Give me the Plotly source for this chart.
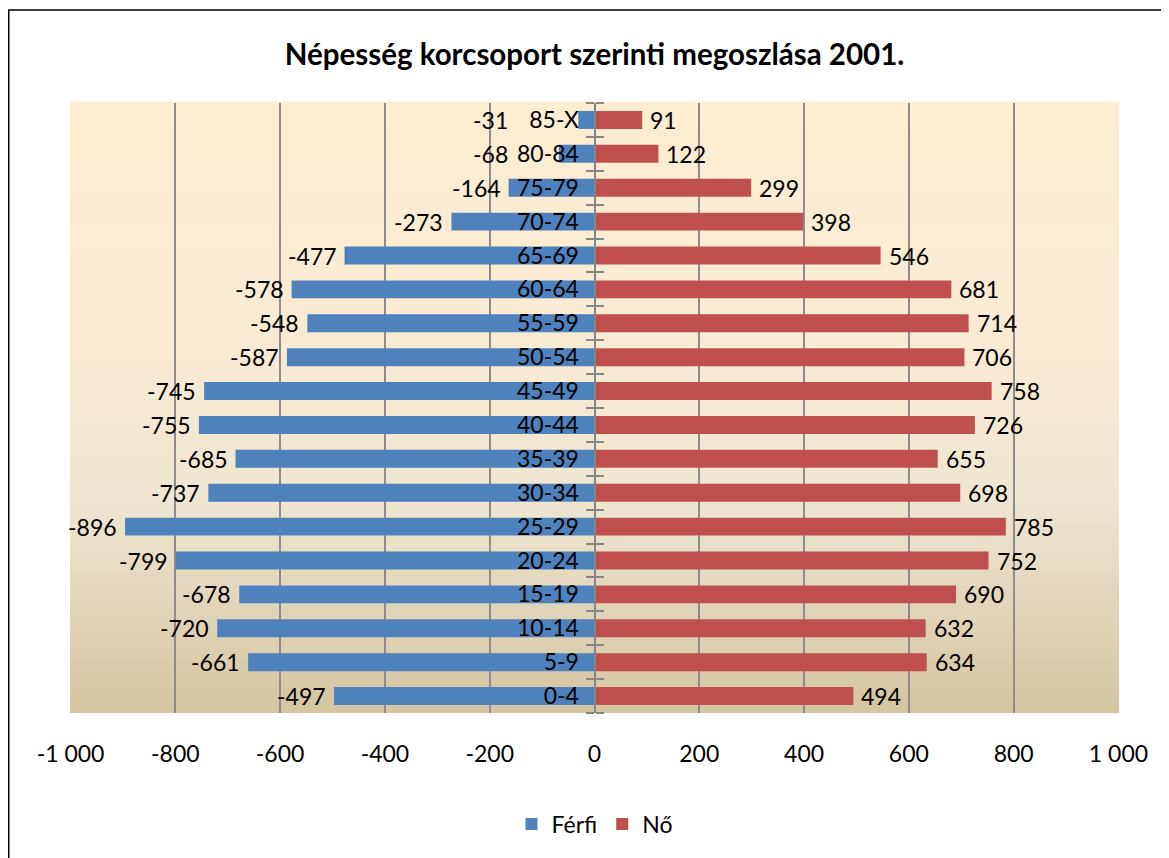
import plotly.graph_objects as go

# age groups, bottom to top
korcsoport = ["0-4", "5-9", "10-14", "15-19", "20-24", "25-29", "30-34", "35-39", "40-44",
              "45-49", "50-54", "55-59", "60-64", "65-69", "70-74", "75-79", "80-84", "85-X"]
ferfi = [-497, -661, -720, -678, -799, -896, -737, -685, -755,
         -745, -587, -548, -578, -477, -273, -164, -68, -31]
no = [494, 634, 632, 690, 752, 785, 698, 655, 726,
      758, 706, 714, 681, 546, 398, 299, 122, 91]

x_ticks = [-1000, -800, -600, -400, -200, 0, 200, 400, 600, 800, 1000]
x_labels = ["-1 000", "-800", "-600", "-400", "-200", "0", "200", "400", "600", "800", "1 000"]

FONT = "Lato, 'Open Sans', sans-serif"
KEK = "#4F81BD"
PIROS = "#C0504D"
SZURKE = "#868686"
LABEL_CLEAR = -150  # keep male labels left of the category labels


def hex2rgb(h):
    h = h.lstrip("#")
    return [int(h[i:i + 2], 16) for i in (0, 2, 4)]


# parchment-like gradient of the plot area (bottom -> top)
stops = [(0.0, "#D4C5A0"), (0.35, "#EEE6D1"), (0.6, "#F9EBD2"), (1.0, "#FDEDD1")]


def grad_color(t):
    for (a, ca), (b, cb) in zip(stops[:-1], stops[1:]):
        if a <= t <= b:
            f = (t - a) / (b - a)
            c1, c2 = hex2rgb(ca), hex2rgb(cb)
            return "rgb(%d,%d,%d)" % tuple(round(c1[k] + (c2[k] - c1[k]) * f) for k in range(3))
    return stops[-1][1]


fig = go.Figure()

fig.add_trace(go.Bar(
    y=korcsoport, x=ferfi, orientation="h", name="Férfi",
    marker=dict(color=KEK, line=dict(width=0)),
))
fig.add_trace(go.Bar(
    y=korcsoport, x=no, orientation="h", name="Nő",
    marker=dict(color=PIROS, line=dict(width=0)),
))
# invisible helper so the second (crossing) tick axis is drawn
fig.add_trace(go.Scatter(
    y=korcsoport, x=[0] * len(korcsoport), yaxis="y2", mode="none",
    showlegend=False, hoverinfo="skip",
))

# value labels
for k, v in zip(korcsoport, ferfi):
    fig.add_annotation(x=min(v, LABEL_CLEAR), y=k, text=str(v), showarrow=False,
                       xanchor="right", xshift=-6, font=dict(family=FONT, size=23, color="black"))
for k, v in zip(korcsoport, no):
    fig.add_annotation(x=v, y=k, text=str(v), showarrow=False,
                       xanchor="left", xshift=6, font=dict(family=FONT, size=23, color="black"))

N = 90
for i in range(N):
    fig.add_shape(type="rect", xref="x domain", yref="y domain",
                  x0=0, x1=1, y0=i / N, y1=(i + 1) / N + 0.002,
                  fillcolor=grad_color((i + 0.5) / N), line=dict(width=0), layer="below")

# outer chart border
fig.add_shape(type="rect", xref="paper", yref="paper",
              x0=-0.0584, x1=1.2, y0=-0.4, y1=1.1525,
              line=dict(color="black", width=1.5), fillcolor="rgba(0,0,0,0)", layer="above")

fig.update_layout(
    width=1161, height=850,
    margin=dict(l=62, r=50, t=95, b=145),
    paper_bgcolor="white", plot_bgcolor="rgba(0,0,0,0)",
    font=dict(family=FONT, size=23, color="black"),
    barmode="relative", bargap=0.47,
    title=dict(text="<b>Népesség korcsoport szerinti megoszlása 2001.</b>",
               x=0.5, xref="paper", xanchor="center",
               y=1 - 47 / 850, yref="container", yanchor="middle",
               font=dict(family=FONT, size=29.5, color="black")),
    legend=dict(orientation="h", x=0.5, xanchor="center", y=-0.182, yanchor="middle",
                font=dict(family=FONT, size=23), itemwidth=30, traceorder="normal"),
    showlegend=True,
    yaxis2=dict(type="category", categoryarray=korcsoport, range=[-0.5, 17.5],
                overlaying="y", side="right", anchor="free", position=0.5,
                showgrid=False, showline=False, showticklabels=False,
                ticks="outside", ticklen=8, tickwidth=2, tickcolor=SZURKE,
                tickson="boundaries"),
)

fig.update_xaxes(range=[-1001, 1001], tickvals=x_ticks, ticktext=x_labels,
                 showgrid=True, gridcolor="#8C8C8C", gridwidth=1.5,
                 zeroline=False, showline=False, ticks="", ticklabelstandoff=25,
                 tickfont=dict(family=FONT, size=23))
fig.layout.yaxis.update(type="category", categoryarray=korcsoport, range=[-0.5, 17.5],
                        anchor="free", position=0.5, showgrid=False,
                        showline=True, linecolor=SZURKE, linewidth=2,
                        ticks="outside", ticklen=8, tickwidth=2, tickcolor=SZURKE,
                        tickson="boundaries", ticklabelstandoff=10,
                        tickfont=dict(family=FONT, size=23))

fig.write_html("out.html")
